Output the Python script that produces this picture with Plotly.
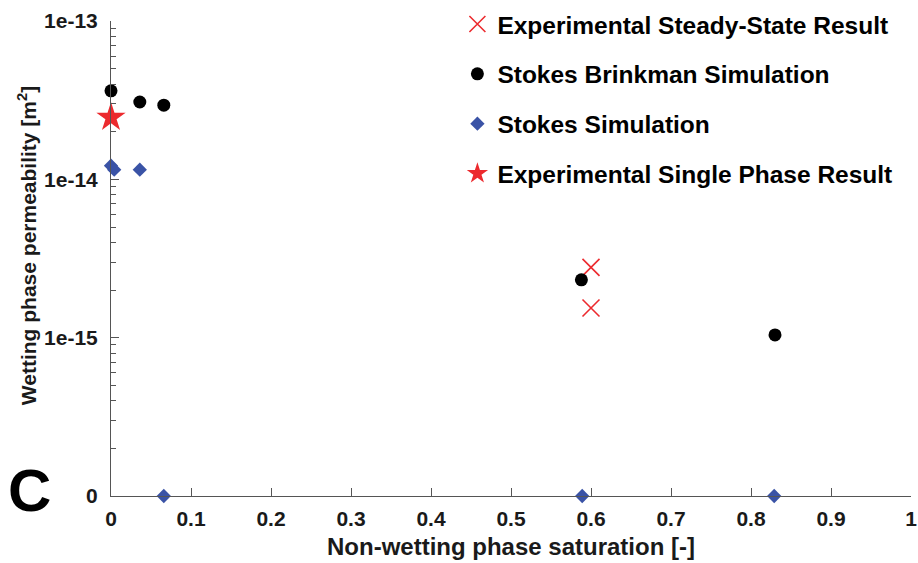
import plotly.graph_objects as go

# ---------------- data ----------------
EXP_SS_X = [0.600, 0.600]
EXP_SS_Y = [2.78e-15, 1.54e-15]

SB_X = [0.000, 0.036, 0.066, 0.588, 0.830]
SB_Y = [3.62e-14, 3.08e-14, 2.94e-14, 2.32e-15, 1.04e-15]

ST_X = [0.000, 0.004, 0.036, 0.066, 0.589, 0.829]
ST_Y = [1.22e-14, 1.15e-14, 1.15e-14, 0.0, 0.0, 0.0]

SP_X = [0.000]
SP_Y = [2.46e-14]

Y_TICK_VALS = [1e-16, 1e-15, 1e-14, 1e-13]
Y_TICK_TEXT = ["0", "1e-15", "1e-14", "1e-13"]
X_TICK_VALS = [0, 0.1, 0.2, 0.3, 0.4, 0.5, 0.6, 0.7, 0.8, 0.9, 1]
X_TICK_TEXT = ["0", "0.1", "0.2", "0.3", "0.4", "0.5", "0.6", "0.7", "0.8", "0.9", "1"]

ZERO_FLOOR = 1e-16  # value shown as "0" on the log axis

FONT = "Liberation Sans, Arial, Helvetica, sans-serif"
RED = "#ec2a2e"
BLUE = "#3a53a6"
INK = "#1a1a1a"
AXIS = "#555555"


def floor(vals):
    return [v if v > 0 else ZERO_FLOOR for v in vals]


fig = go.Figure()

fig.add_trace(go.Scatter(
    x=EXP_SS_X, y=EXP_SS_Y, mode="markers",
    name="Experimental Steady-State Result", legendgroup="a",
    marker=dict(symbol="x-thin-open", size=17, color=RED,
                line=dict(color=RED, width=1.6)),
    cliponaxis=False))
fig.add_trace(go.Scatter(
    x=SB_X, y=SB_Y, mode="markers",
    name="Stokes Brinkman Simulation", legendgroup="b",
    marker=dict(symbol="circle", size=13, color="black"),
    cliponaxis=False))
fig.add_trace(go.Scatter(
    x=ST_X, y=floor(ST_Y), mode="markers",
    name="Stokes Simulation", legendgroup="c",
    marker=dict(symbol="diamond", size=11, color=BLUE),
    cliponaxis=False))
fig.add_trace(go.Scatter(
    x=SP_X, y=SP_Y, mode="markers",
    name="Experimental Single Phase Result", legendgroup="d",
    marker=dict(symbol="star", size=22, color=RED),
    cliponaxis=False))

fig.add_annotation(
    text="C", xref="paper", yref="paper", x=-0.102, y=0.012,
    xanchor="center", yanchor="middle", showarrow=False,
    font=dict(family=FONT, size=60, color="black", weight="bold"))

# y-axis title placed as a rotated annotation (matches reference offset)
fig.add_annotation(
    text="Wetting phase permeability [m<sup>2</sup>]", xref="paper", yref="paper",
    x=-0.105, y=0.526, xanchor="center", yanchor="middle", textangle=-90,
    showarrow=False,
    font=dict(family=FONT, size=21, color=INK, weight="bold"))

fig.update_layout(
    width=918, height=563,
    margin=dict(l=111, r=7, t=21, b=67, autoexpand=False),
    paper_bgcolor="white", plot_bgcolor="white",
    font=dict(family=FONT, size=21, color=INK, weight="bold"),
    showlegend=True,
    legend=dict(x=0.433, y=1.041, xanchor="left", yanchor="top",
                bgcolor="rgba(0,0,0,0)", traceorder="grouped",
                tracegroupgap=15,
                font=dict(family=FONT, size=24.5, color="black", weight="bold")),
)

fig.update_xaxes(
    range=[0, 1], tickvals=X_TICK_VALS, ticktext=X_TICK_TEXT,
    showgrid=False, zeroline=False, showline=True, linecolor=AXIS,
    linewidth=1, ticks="inside", ticklen=8, tickcolor=AXIS,
    ticklabelstandoff=4,
    tickfont=dict(family=FONT, size=21, color=INK, weight="bold"),
    title=dict(text="Non-wetting phase saturation [-]", standoff=8,
               font=dict(family=FONT, size=24, color=INK, weight="bold")),
)
fig.update_yaxes(
    type="log", range=[-16, -13], tickvals=Y_TICK_VALS, ticktext=Y_TICK_TEXT,
    showgrid=False, zeroline=False, showline=True, linecolor=AXIS,
    linewidth=1, ticks="inside", ticklen=8, tickcolor=AXIS,
    ticklabelstandoff=8,
    minor=dict(ticks="inside", ticklen=5, tickcolor=AXIS, dtick="D1", showgrid=False),
    tickfont=dict(family=FONT, size=21, color=INK, weight="bold"),
)

fig.write_html("out.html")
